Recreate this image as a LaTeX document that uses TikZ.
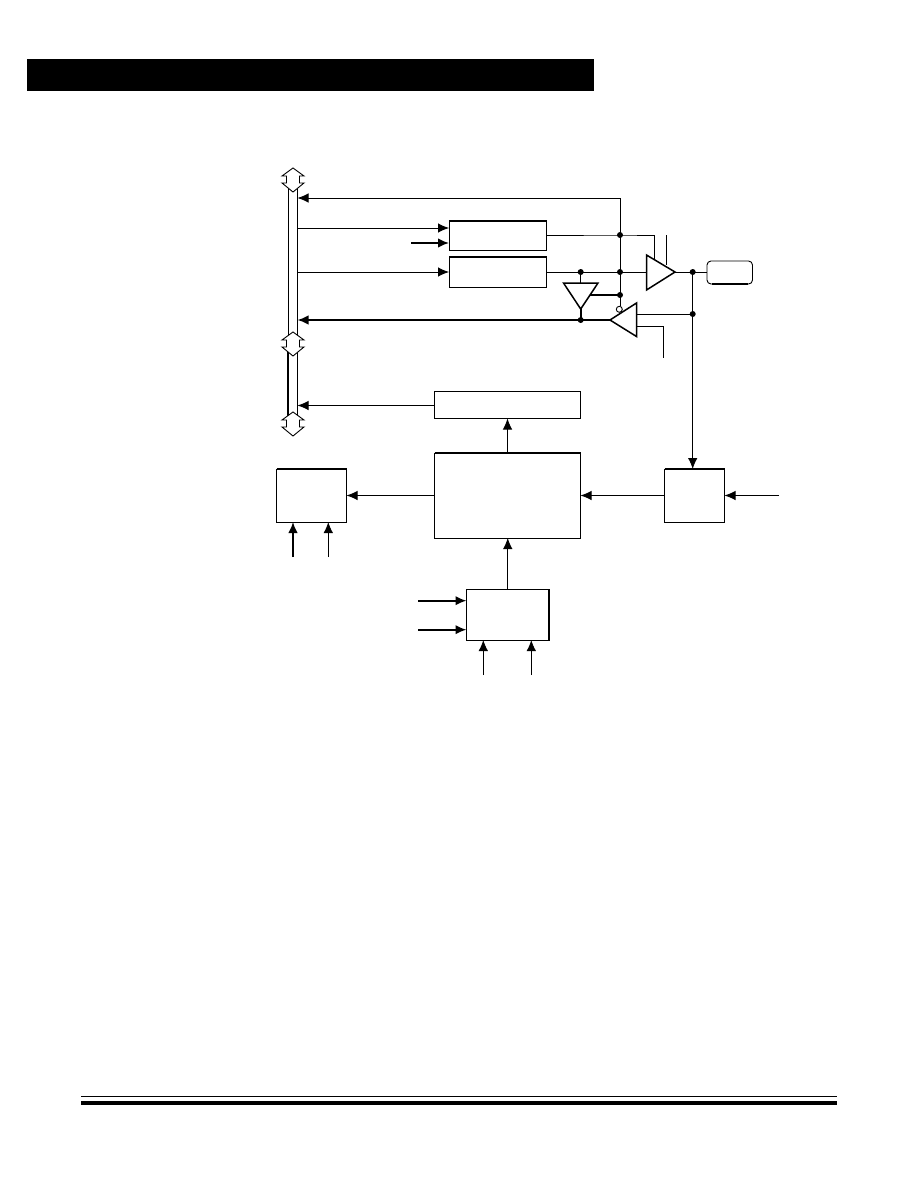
\documentclass[tikz,border=0pt]{standalone}
\usetikzlibrary{arrows.meta}
\tikzset{
  block/.style={draw=black,fill=white,line width=0.9pt,inner sep=0pt,outer sep=0pt,rectangle},
  wire/.style={line width=0.9pt,draw=black},
  heavy/.style={line width=1.8pt,draw=black},
  arr/.style={-{Latex[length=11pt,width=9.5pt]}},
  gate/.style={draw=black,fill=white,line width=1.5pt,line join=miter},
  dot/.style={circle,fill=black,inner sep=0pt,outer sep=0pt,minimum size=6pt},
  bubble/.style={circle,draw=black,fill=white,line width=0.9pt,inner sep=0pt,outer sep=0pt,minimum size=6pt},
  busarrow/.style={draw=black,fill=white,line width=0.9pt,line join=miter},
}
\newcommand{\blockat}[5]{\node[block,minimum width=#4 pt,minimum height=#5 pt] (#1) at (#2,#3) {};}
\newcommand{\busarrowat}[2]{%
  \draw[busarrow] (#1,#2) -- ++(11,8) -- ++(-4.5,0) -- ++(0,7) -- ++(4.5,0) -- ++(-11,9)
   -- ++(-11,-9) -- ++(4.5,0) -- ++(0,-7) -- ++(-4.5,0) -- cycle;}
\begin{document}
\begin{tikzpicture}[x=1pt,y=-1pt]
\useasboundingbox (0,0) rectangle (918,1188);
% banner and footer
\fill[black] (27,59) rectangle (594,91);
\fill[black] (81,1095.5) rectangle (837,1096.6);
\fill[black] (81,1101) rectangle (837,1105.3);
% bus
\draw[wire] (288.5,180) -- (288.5,424) (297.5,180) -- (297.5,424);
\draw[line width=2pt] (288,350) -- (288,416);
\busarrowat{293}{168}
\busarrowat{293}{332}
\busarrowat{293}{412}
% boxes
\blockat{latchA}{497.75}{235.5}{97.5}{29}
\blockat{latchB}{497.75}{272}{97.5}{30}
\blockat{readbox}{507.5}{405}{146}{27}
\blockat{mainbox}{507.5}{495.5}{146}{85}
\blockat{leftbox}{311.5}{495.5}{70}{53}
\blockat{lowbox}{507.75}{614.75}{82.5}{50.5}
\blockat{rightbox}{694.5}{495.5}{60}{53}
\node[draw=black,fill=white,line width=0.9pt,rounded corners=4pt,minimum width=45.5pt,minimum height=23pt,inner sep=0pt,outer sep=0pt] (pin) at (729.75,272.5) {};
\draw[line width=1.6pt] (712,284) -- (748,284);
% thick box edges
\draw[heavy] (latchA.north west) -- (latchA.north east);
\draw[heavy] (latchB.north west) -- (latchB.north east);
\draw[heavy] (mainbox.north west) -- (mainbox.north east);
\draw[heavy] (leftbox.north west) -- (leftbox.north east);
\draw[heavy] (rightbox.north west) -- (rightbox.north east);
\draw[heavy] (rightbox.north east) -- (rightbox.south east);
\draw[heavy] (lowbox.north east) -- (lowbox.south east);
% named points
\coordinate (busD) at (297.5,198);
\coordinate (busA) at (297.5,228);
\coordinate (busB) at (297.5,272);
\coordinate (busR) at (297.5,320);
\coordinate (busL) at (297.5,405.5);
\coordinate (freeclk) at (411,243);
\coordinate (top) at (620,198);
\coordinate (enT) at (666,235);
\coordinate (enTb) at (666,265);
\coordinate (enR) at (663.3,326);
\coordinate (enRb) at (663.3,358);
\coordinate (fb) at (590,295);
\coordinate (tlpin) at (654.3,235);
\coordinate (tlpinb) at (654.3,259);
\coordinate (inR) at (779,495.5);
\coordinate (inL1) at (293,557);
\coordinate (inL2) at (328.3,557);
\coordinate (inB1) at (418,600.7);
\coordinate (inB2) at (418,629.7);
\coordinate (inB3) at (483.3,675);
\coordinate (inB4) at (531.3,675);
% junctions
\coordinate (j1) at (620,235);
\coordinate (j2) at (620,272);
\coordinate (j3) at (620,295);
\coordinate (j4) at (580.7,272);
\coordinate (j5) at (580.7,320);
\coordinate (j6) at (692.7,272);
\coordinate (j7) at (692.7,314);
% wires
\draw[wire,arr] (top) -- (busD);
\draw[wire] (top) -- (j1);
\draw[wire] (j1) -- (j3);
\draw[wire] (j3) -- (620,306);
\draw[wire] (latchA.east |- j1) -- (j1) -- (tlpin) -- (tlpinb);
\draw[wire] (enT) -- (enTb);
\draw[wire] (latchB.east |- j2) -- (646.5,272);
\draw[wire] (675,272) -- (pin.west |- j6);
\draw[wire] (j4) -- (580.7,283);
\draw[heavy] (580.7,309) -- (j5);
\draw[heavy] (fb) -- (j3);
\draw[wire] (636.5,314) -- (j7);
\draw[wire] (636.5,326) -- (enR) -- (enRb);
\draw[wire] (j6) -- (j7);
\draw[wire,arr] (j7) -- (rightbox.north -| j7);
\draw[wire,arr] (busA) -- (latchA.west |- busA);
\draw[heavy,arr] (freeclk) -- (latchA.west |- freeclk);
\draw[wire,arr] (busB) -- (latchB.west |- busB);
\draw[heavy,arr] (610,320) -- (busR);
\draw[wire,arr] (readbox.west |- busL) -- (busL);
\draw[wire,arr] (mainbox.north -| readbox.south) -- (readbox.south);
\draw[wire,arr] (lowbox.north) -- (mainbox.south -| lowbox.north);
\draw[wire,arr] (mainbox.west) -- (leftbox.east);
\draw[wire,arr] (rightbox.west) -- (mainbox.east);
\draw[wire,arr] (inR) -- (rightbox.east);
\draw[heavy,arr] (inL1) -- (leftbox.south -| inL1);
\draw[wire,arr] (inL2) -- (leftbox.south -| inL2);
\draw[heavy,arr] (inB1) -- (lowbox.west |- inB1);
\draw[heavy,arr] (inB2) -- (lowbox.west |- inB2);
\draw[wire,arr] (inB3) -- (lowbox.south -| inB3);
\draw[wire,arr] (inB4) -- (lowbox.south -| inB4);
% gates
\draw[gate] (646.5,255) -- (675,272) -- (646.5,290) -- cycle;
\draw[gate] (563.5,283) -- (598,283) -- (580.7,309) -- cycle;
\draw[gate] (610,320) -- (636.5,303) -- (636.5,336.5) -- cycle;
\node[bubble] (bub) at (619.3,309.3) {};
% dots
\foreach \p in {j1,j2,j3,j4,j5,j6,j7} \node[dot] (d\p) at (\p) {};
\end{tikzpicture}
\end{document}
